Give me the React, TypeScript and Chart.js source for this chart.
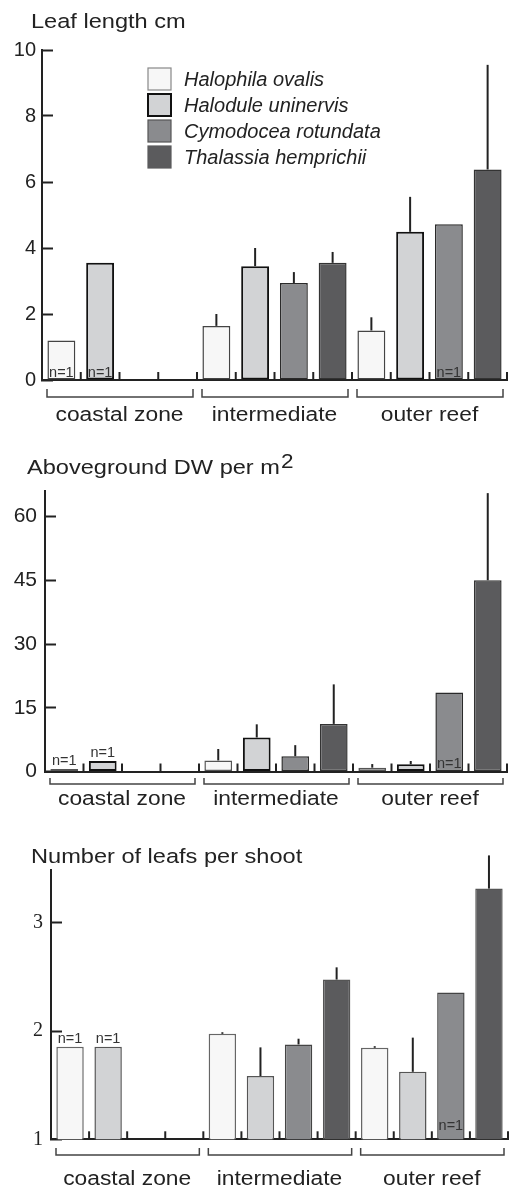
import React, { useEffect, useRef } from "react";
import { Chart, registerables } from "chart.js";
Chart.register(...registerables);

const zones = ["coastal zone", "intermediate", "outer reef"];
const species = ["Halophila ovalis", "Halodule uninervis", "Cymodocea rotundata", "Thalassia hemprichii"];

// Panel 1: Leaf length cm
const leafHO = [1.2, 1.64, 1.5];
const leafHU = [3.55, 3.45, 4.49];
const leafCR = [null, 2.94, 4.72];
const leafTH = [null, 3.55, 6.38];
const leafErrHO = [null, 0.36, 0.4];
const leafErrHU = [null, 0.55, 1.06];
const leafErrCR = [null, 0.33, null];
const leafErrTH = [null, 0.33, 3.17];
const leafTicks = [0, 2, 4, 6, 8, 10];

// Panel 2: Aboveground DW per m2
const dwHO = [0.6, 2.6, 0.9];
const dwHU = [2.5, 8.0, 1.7];
const dwCR = [null, 3.6, 18.6];
const dwTH = [null, 11.2, 45.0];
const dwErrHO = [null, 2.7, 0.85];
const dwErrHU = [null, 3.1, 0.77];
const dwErrCR = [null, 2.6, null];
const dwErrTH = [null, 9.3, 20.5];
const dwTicks = [0, 15, 30, 45, 60];

// Panel 3: Number of leafs per shoot
const nlHO = [1.855, 1.975, 1.846];
const nlHU = [1.855, 1.585, 1.624];
const nlCR = [null, 1.877, 2.357];
const nlTH = [null, 2.477, 3.318];
const nlErrHO = [null, 0.015, 0.015];
const nlErrHU = [null, 0.265, 0.316];
const nlErrCR = [null, 0.053, null];
const nlErrTH = [null, 0.113, 0.307];
const nlTicks = [1, 2, 3];

// n=1 markers: [species index, zone index, inside bar (1) or above bar (0)]
const leafN1 = [[0, 0, 1], [1, 0, 1], [2, 2, 1]];
const dwN1 = [[0, 0, 0], [1, 0, 0], [2, 2, 1]];
const nlN1 = [[0, 0, 0], [1, 0, 0], [2, 2, 1]];

const fills = ["#f7f7f7", "#d2d3d5", "#8a8b8e", "#5b5b5d"];
const SANS = '"Liberation Sans", Arial, sans-serif';
const SERIF = '"Liberation Serif", "Times New Roman", serif';
const W = 510;

type Panel = {
  top: number; height: number;
  area: { left: number; right: number; top: number; bottom: number };
  values: (number | null)[][]; errors: (number | null)[][];
  ticks: number[]; yMin: number; yMax: number; step: number;
  tickFont: string; tickSize: number; tickGap: number;
  title: string; titleSup?: string; titleX: number; titleBase: number;
  n1: number[][]; n1Inside: number; n1Above: number;
  bracketLine: number; bracketEnd: number; labelBase: number;
  legend: boolean; borders: string[]; borderW: number[];
};

const panels: Panel[] = [
  {
    top: 0, height: 430,
    area: { left: 42, right: 507, top: 50, bottom: 380 },
    values: [leafHO, leafHU, leafCR, leafTH], errors: [leafErrHO, leafErrHU, leafErrCR, leafErrTH],
    ticks: leafTicks, yMin: 0, yMax: 10, step: 2,
    tickFont: SANS, tickSize: 20, tickGap: 6,
    title: "Leaf length cm", titleX: 31, titleBase: 28,
    n1: leafN1, n1Inside: 3, n1Above: 4,
    bracketLine: 397, bracketEnd: 389, labelBase: 421,
    legend: true,
    borders: ["#444", "#111", "#2a2a2a", "#333"], borderW: [1.5, 2, 1.5, 1.5],
  },
  {
    top: 430, height: 385,
    area: { left: 45, right: 507, top: 61, bottom: 341.5 },
    values: [dwHO, dwHU, dwCR, dwTH], errors: [dwErrHO, dwErrHU, dwErrCR, dwErrTH],
    ticks: dwTicks, yMin: 0, yMax: 66, step: 15,
    tickFont: SANS, tickSize: 21, tickGap: 8,
    title: "Aboveground DW per m", titleSup: "2", titleX: 27, titleBase: 44,
    n1: dwN1, n1Inside: 3.5, n1Above: 4,
    bracketLine: 354, bracketEnd: 348, labelBase: 375,
    legend: false,
    borders: ["#555", "#111", "#2a2a2a", "#333"], borderW: [1.5, 2, 1.5, 1.5],
  },
  {
    top: 815, height: 371,
    area: { left: 51, right: 508, top: 55, bottom: 324.3 },
    values: [nlHO, nlHU, nlCR, nlTH], errors: [nlErrHO, nlErrHU, nlErrCR, nlErrTH],
    ticks: nlTicks, yMin: 1, yMax: 3.49, step: 1,
    tickFont: SERIF, tickSize: 20, tickGap: 8,
    title: "Number of leafs per shoot", titleX: 31, titleBase: 48,
    n1: nlN1, n1Inside: 9, n1Above: 3.5,
    bracketLine: 340, bracketEnd: 333, labelBase: 370,
    legend: false,
    borders: ["#666", "#555", "#444", "#555"], borderW: [1.5, 1.5, 1.5, 1.5],
  },
];

function stretchText(ctx: CanvasRenderingContext2D, text: string, x: number, y: number, sx: number, align: CanvasTextAlign) {
  ctx.save();
  ctx.translate(x, y);
  ctx.scale(sx, 1);
  ctx.textAlign = align;
  ctx.textBaseline = "alphabetic";
  ctx.fillText(text, 0, 0);
  ctx.restore();
}

function makeDecor(p: Panel) {
  return {
    id: "decor",
    afterDatasetsDraw(chart: any) {
      const ctx: CanvasRenderingContext2D = chart.ctx;
      const xs = chart.scales.x;
      const ys = chart.scales.y;
      const axisY = ys.getPixelForValue(p.yMin);
      ctx.save();
      // error bars
      ctx.strokeStyle = "#222";
      ctx.lineWidth = 2;
      p.values.forEach((vals, d) => {
        const meta = chart.getDatasetMeta(d);
        vals.forEach((v, i) => {
          const e = p.errors[d][i];
          if (v == null || e == null) return;
          const bar = meta.data[i];
          const yTop = ys.getPixelForValue(v + e);
          ctx.beginPath();
          ctx.moveTo(bar.x, bar.y);
          ctx.lineTo(bar.x, yTop);
          ctx.stroke();
        });
      });
      // small x ticks at bar boundaries
      const sub = xs.width / 12;
      for (let k = 1; k <= 12; k++) {
        const px = xs.left + k * sub;
        ctx.beginPath();
        ctx.moveTo(px, axisY);
        ctx.lineTo(px, axisY - 8);
        ctx.stroke();
      }
      // n=1 labels
      ctx.fillStyle = "#333";
      ctx.font = `14.5px ${SANS}`;
      ctx.textAlign = "center";
      ctx.textBaseline = "alphabetic";
      p.n1.forEach(([s, g, inside]) => {
        const bar = chart.getDatasetMeta(s).data[g];
        const y = inside ? axisY - p.n1Inside : bar.y - p.n1Above;
        ctx.fillText("n=1", bar.x, y);
      });
      // brackets & group labels
      const cw = xs.width / 3;
      ctx.strokeStyle = "#444";
      ctx.lineWidth = 1.5;
      ctx.fillStyle = "#222";
      ctx.font = `20px ${SANS}`;
      zones.forEach((z, i) => {
        const c = xs.getPixelForValue(i);
        const l = c - cw / 2 + 5;
        const r = c + cw / 2 - 4;
        ctx.beginPath();
        ctx.moveTo(l, p.bracketEnd);
        ctx.lineTo(l, p.bracketLine);
        ctx.lineTo(r, p.bracketLine);
        ctx.lineTo(r, p.bracketEnd);
        ctx.stroke();
        stretchText(ctx, z, c, p.labelBase, 1.14, "center");
      });
      // title
      ctx.font = `20.5px ${SANS}`;
      stretchText(ctx, p.title, p.titleX, p.titleBase, 1.15, "left");
      if (p.titleSup) {
        const w = ctx.measureText(p.title).width * 1.15;
        stretchText(ctx, p.titleSup, p.titleX + w + 1, p.titleBase - 6, 1.1, "left");
      }
      // legend
      if (p.legend) {
        ctx.font = `italic 20px ${SANS}`;
        ctx.textAlign = "left";
        ctx.textBaseline = "middle";
        species.forEach((name, i) => {
          const by = 68 + i * 26;
          ctx.fillStyle = fills[i];
          ctx.fillRect(148, by, 23, 22);
          ctx.strokeStyle = i === 1 ? "#111" : i === 0 ? "#888" : i === 2 ? "#555" : fills[i];
          ctx.lineWidth = i === 1 ? 2 : 1.2;
          ctx.strokeRect(148, by, 23, 22);
          ctx.fillStyle = "#222";
          ctx.fillText(name, 184, by + 12);
        });
      }
      ctx.restore();
    },
  };
}

function PanelChart({ p }: { p: Panel }) {
  const ref = useRef<HTMLCanvasElement>(null);
  useEffect(() => {
    const canvas = ref.current!;
    const chart = new Chart(canvas, {
      type: "bar",
      data: {
        labels: zones,
        datasets: species.map((name, i) => ({
          label: name,
          data: p.values[i] as any,
          backgroundColor: fills[i],
          borderColor: p.borders[i],
          borderWidth: p.borderW[i],
          borderSkipped: false,
          barPercentage: 0.72,
          categoryPercentage: 1,
        })),
      },
      options: {
        responsive: false,
        animation: false,
        events: [],
        layout: { padding: { left: 0, right: W - p.area.right, top: p.area.top, bottom: p.height - p.area.bottom } },
        plugins: { legend: { display: false }, tooltip: { enabled: false }, title: { display: false } },
        scales: {
          x: {
            display: true,
            grid: { display: false, drawTicks: false },
            ticks: { display: false },
            border: { display: true, color: "#222", width: 2 },
            afterFit: (s: any) => { s.height = 0; },
          },
          y: {
            min: p.yMin,
            max: p.yMax,
            afterBuildTicks: (s: any) => { s.ticks = p.ticks.map((v) => ({ value: v })); },
            ticks: {
              stepSize: p.step,
              includeBounds: false,
              color: "#222",
              font: { family: p.tickFont, size: p.tickSize },
              padding: p.tickGap + 11,
            },
            grid: { drawOnChartArea: false, drawTicks: true, tickLength: -11, tickWidth: 2, tickColor: "#222" },
            border: { display: true, color: "#222", width: 2 },
            afterFit: (s: any) => { s.width = p.area.left; },
          },
        },
      } as any,
      plugins: [makeDecor(p)],
    });
    return () => chart.destroy();
  }, [p]);
  return (
    <canvas
      ref={ref}
      width={W}
      height={p.height}
      style={{ position: "absolute", left: 0, top: p.top, width: W, height: p.height }}
    />
  );
}

export default function App() {
  return (
    <div style={{ position: "absolute", left: 0, top: 0, width: W, height: 1186, background: "#fff", overflow: "hidden" }}>
      {panels.map((p, i) => (
        <PanelChart key={i} p={p} />
      ))}
    </div>
  );
}
